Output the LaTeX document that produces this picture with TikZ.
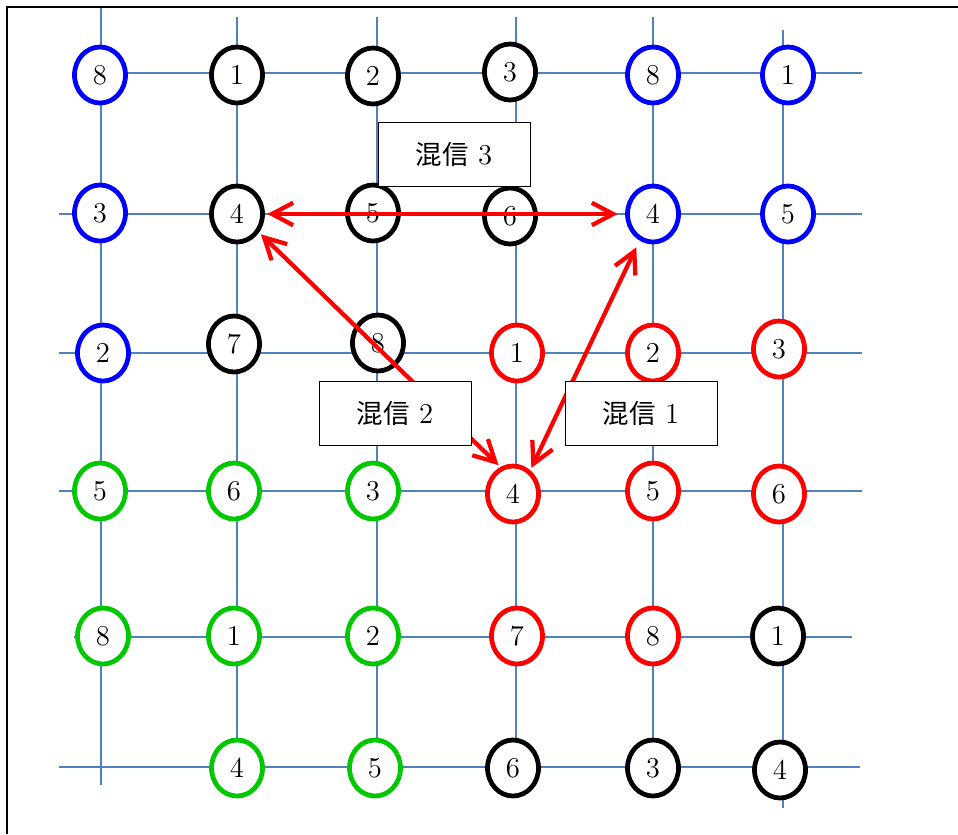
\documentclass[tikz,border=0pt]{standalone}
\usepackage{fontspec}
\newfontfamily\cjk[Scale=0.92]{Noto Sans CJK JP}
\usetikzlibrary{shapes.geometric,arrows.meta}
\definecolor{gridblue}{RGB}{79,129,189}
\definecolor{cgreen}{RGB}{0,200,0}
\begin{document}
\begin{tikzpicture}[x=0.4pt,y=-0.4pt,
  gridline/.style={draw=gridblue,line width=0.8pt},
  cell/.style={ellipse,draw,fill=white,line width=1.9pt,minimum width=20.4pt,minimum height=22.4pt,inner sep=0pt,font=\fontsize{11.5}{12}\selectfont},
  cb/.style={cell,draw=blue},
  ck/.style={cell,draw=black},
  cr/.style={cell,draw=red},
  cg/.style={cell,draw=cgreen},
  lbl/.style={draw=black,fill=white,line width=0.4pt,minimum width=60.8pt,minimum height=25.6pt,inner sep=0pt,font=\fontsize{11.5}{12}\selectfont},
  xarrow/.style={draw=red,line width=1.7pt,{Straight Barb[length=8.5pt,width=9pt]}-{Straight Barb[length=8.5pt,width=9pt]}}]
\useasboundingbox (0,0) rectangle (958,834);
% frame
\draw[line width=0.8pt] (7,834) -- (7,7) -- (958,7);
% grid
\draw[gridline] (101,8) -- (101,785);
\draw[gridline] (237,17) -- (237,768);
\draw[gridline] (377,17) -- (377,768);
\draw[gridline] (516,17) -- (516,768);
\draw[gridline] (653,17) -- (653,768);
\draw[gridline] (783,30) -- (783,808);
\draw[gridline] (101,73) -- (862,73);
\draw[gridline] (59,214) -- (862,214);
\draw[gridline] (59,353) -- (862,353);
\draw[gridline] (59,491) -- (862,491);
\draw[gridline] (74,637) -- (852,637);
\draw[gridline] (59,767) -- (860,767);
% row 1
\node[cb] (u11) at (100,75) {8};
\node[ck] (b12) at (237,75) {1};
\node[ck] (b13) at (373,76) {2};
\node[ck] (b14) at (510,72) {3};
\node[cb] (u15) at (653,75) {8};
\node[cb] (u16) at (788,75) {1};
% row 2
\node[cb] (u21) at (100,213) {3};
\node[ck] (b22) at (237,214) {4};
\node[ck] (b23) at (373,213) {5};
\node[ck] (b24) at (510,216) {6};
\node[cb] (u25) at (653,214) {4};
\node[cb] (u26) at (788,214) {5};
% row 3
\node[cb] (u31) at (103,353) {2};
\node[ck] (b32) at (234,344) {7};
\node[ck] (b33) at (378,343) {8};
\node[cr] (r34) at (517,353) {1};
\node[cr] (r35) at (653,353) {2};
\node[cr] (r36) at (779,349) {3};
% row 4
\node[cg] (g41) at (100,491) {5};
\node[cg] (g42) at (234,491) {6};
\node[cg] (g43) at (373,491) {3};
\node[cr] (r44) at (513,494) {4};
\node[cr] (r45) at (653,491) {5};
\node[cr] (r46) at (779,494) {6};
% row 5
\node[cg] (g51) at (103,636) {8};
\node[cg] (g52) at (234,636) {1};
\node[cg] (g53) at (373,636) {2};
\node[cr] (r54) at (517,636) {7};
\node[cr] (r55) at (653,636) {8};
\node[ck] (b56) at (778,636) {1};
% row 6
\node[cg] (g62) at (237,768) {4};
\node[cg] (g63) at (375,768) {5};
\node[ck] (b64) at (513,768) {6};
\node[ck] (b65) at (653,768) {3};
\node[ck] (b66) at (780,770) {4};
% crosstalk arrows
\draw[xarrow,shorten <=1pt,shorten >=3pt] (b22.east) -- (u25.west);
\draw[xarrow,shorten <=1pt,shorten >=1pt] (b22.-40) -- (r44.115);
\draw[xarrow,shorten <=1pt,shorten >=3pt] (r44.54) -- (u25.243);
% labels
\node[lbl] (l3) at (454,154) {{\cjk 混信} 3};
\node[lbl] (l2) at (395,413) {{\cjk 混信} 2};
\node[lbl] (l1) at (641,413) {{\cjk 混信} 1};
\end{tikzpicture}
\end{document}
